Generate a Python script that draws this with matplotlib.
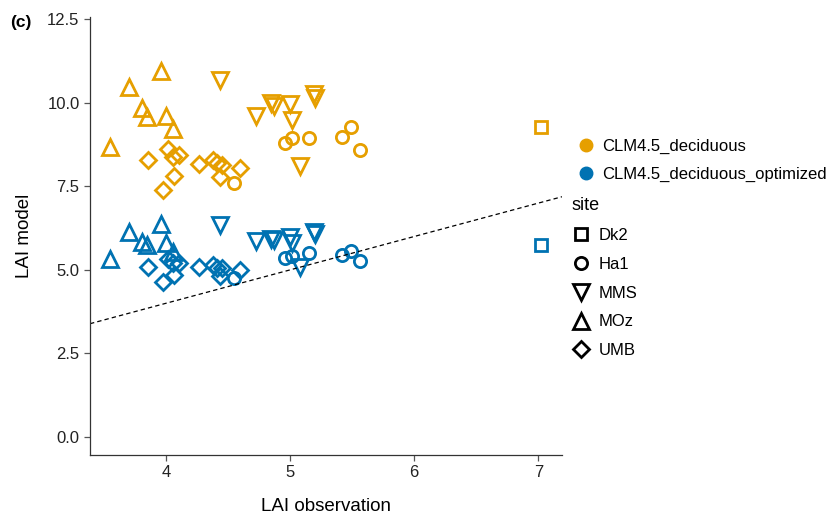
import matplotlib
matplotlib.use("Agg")
import matplotlib.pyplot as plt
from matplotlib.lines import Line2D

plt.rcParams['font.family'] = ['Liberation Sans', 'DejaVu Sans']

# ---- data ----
sites = ["Dk2", "Ha1", "MMS", "MOz", "UMB"]
site_markers = {"Dk2": "s", "Ha1": "o", "MMS": "v", "MOz": "^", "UMB": "D"}
site_msize = {"Dk2": 8.5, "Ha1": 8.8, "MMS": 11.5, "MOz": 11.5, "UMB": 7.8}

obs = {
    "Dk2": [7.02],
    "Ha1": [4.55, 4.96, 5.02, 5.15, 5.42, 5.49, 5.56],
    "MMS": [4.44, 4.73, 4.85, 4.87, 5.00, 5.02, 5.08, 5.19, 5.20],
    "MOz": [3.55, 3.70, 3.81, 3.85, 3.96, 4.00, 4.06],
    "UMB": [3.86, 4.02, 4.06, 4.11, 4.07, 3.98, 4.27, 4.38, 4.41, 4.45, 4.44, 4.60],
}
model_deciduous = {
    "Dk2": [9.28],
    "Ha1": [7.60, 8.80, 8.95, 8.95, 8.98, 9.28, 8.59],
    "MMS": [10.69, 9.61, 10.00, 9.91, 9.97, 9.49, 8.11, 10.27, 10.15],
    "MOz": [8.68, 10.48, 9.85, 9.58, 10.96, 9.61, 9.22],
    "UMB": [8.29, 8.62, 8.38, 8.44, 7.81, 7.40, 8.17, 8.29, 8.20, 8.14, 7.78, 8.05],
}
model_optimized = {
    "Dk2": [5.75],
    "Ha1": [4.76, 5.36, 5.42, 5.50, 5.45, 5.57, 5.27],
    "MMS": [6.35, 5.87, 5.92, 5.90, 5.99, 5.81, 5.09, 6.14, 6.08],
    "MOz": [5.33, 6.14, 5.84, 5.75, 6.38, 5.81, 5.54],
    "UMB": [5.09, 5.33, 5.21, 5.21, 4.85, 4.64, 5.09, 5.15, 5.06, 5.06, 4.82, 5.00],
}
models = ["CLM4.5_deciduous", "CLM4.5_deciduous_optimized"]
model_colors = ["#E69F00", "#0072B2"]
model_data = [model_deciduous, model_optimized]

xticks = [4, 5, 6, 7]
yticks = [0.0, 2.5, 5.0, 7.5, 10.0, 12.5]

# ---- figure ----
fig = plt.figure(figsize=(8.33, 5.18), dpi=100)
ax = fig.add_axes([90/833, 1-455/518, (562-90)/833, (455-17)/518])

for data, col in zip(model_data, model_colors):
    for s in sites:
        ax.plot(obs[s], data[s], linestyle="none", marker=site_markers[s],
                markersize=site_msize[s], markerfacecolor="none",
                markeredgecolor=col, markeredgewidth=2.0)

ax.axline((0, 0), slope=1, color="black", linestyle=(0, (3.5, 2.5)), linewidth=0.9)

ax.set_xlim(3.39, 7.19)
ax.set_ylim(-0.54, 12.57)
ax.set_xticks(xticks)
ax.set_yticks(yticks)
ax.set_yticklabels([f"{v:.1f}" for v in yticks])
ax.spines["top"].set_visible(False)
ax.spines["right"].set_visible(False)
for sp in ["left", "bottom"]:
    ax.spines[sp].set_color("#333333")
    ax.spines[sp].set_linewidth(0.9)
ax.tick_params(axis="both", labelsize=12, colors="#555555", labelcolor="#222222",
               length=4, width=0.9)
ax.set_xlabel("LAI observation", fontsize=13.5, labelpad=13)
ax.set_ylabel("LAI model", fontsize=13.5, labelpad=10)

fig.text(10/833, 1-22/518, "(c)", fontsize=12.5, fontweight="bold", va="center")

# colour legend
col_handles = [Line2D([], [], linestyle="none", marker="o", markersize=9,
                      markerfacecolor=c, markeredgecolor=c) for c in model_colors]
leg1 = fig.legend(col_handles, models, loc="upper left",
                  bbox_to_anchor=(576/833, 1-139/518), frameon=False,
                  fontsize=12, handlelength=1.2, handletextpad=0.35,
                  labelspacing=0.78, borderpad=0, borderaxespad=0)

site_handles = [Line2D([], [], linestyle="none", marker=site_markers[s],
                       markersize=site_msize[s], markerfacecolor="none",
                       markeredgecolor="black", markeredgewidth=2.0) for s in sites]
leg2 = fig.legend(site_handles, sites, title="site", loc="upper left",
                  bbox_to_anchor=(571/833, 1-197/518), frameon=False,
                  fontsize=12, title_fontsize=13, handlelength=1.2,
                  handletextpad=0.45, labelspacing=0.83, borderpad=0,
                  borderaxespad=0, alignment="left")

fig.savefig("out.png", dpi=100)
